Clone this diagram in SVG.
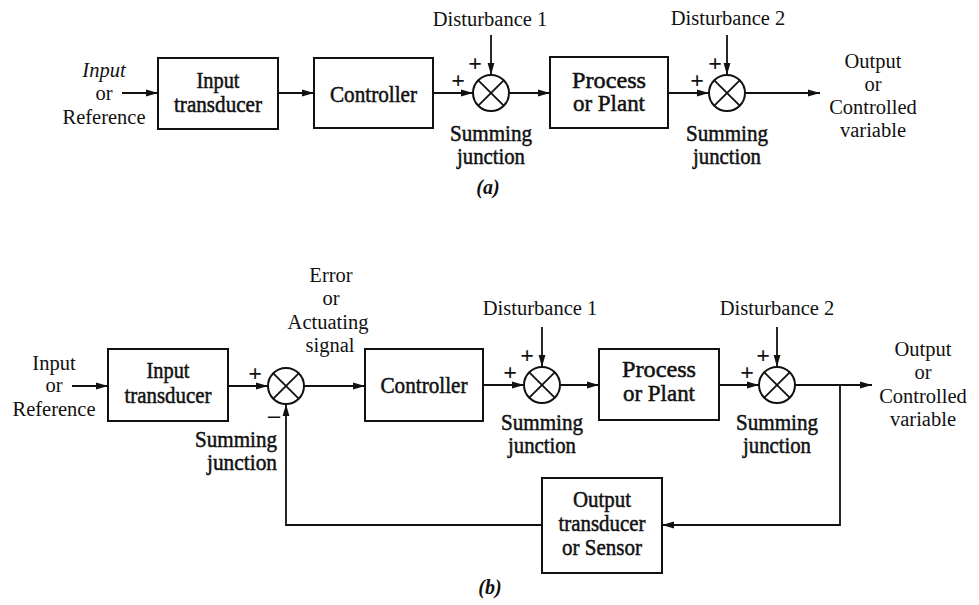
<svg xmlns="http://www.w3.org/2000/svg" width="979" height="605" viewBox="0 0 979 605">
<style>
.box{fill:#fff;stroke:#111;stroke-width:2}
.ln{fill:none;stroke:#111;stroke-width:1.8}
.sum circle{fill:#fff;stroke:#111;stroke-width:2}
.sum line{stroke:#111;stroke-width:1.8}
text{font-family:"Liberation Serif","Times New Roman",serif;fill:#111;text-anchor:middle}
.lt{font-size:20.5px}
.hv{font-size:22.5px;stroke:#111;stroke-width:0.5px}
.sg{font-size:24px;font-weight:bold}
.cap{font-size:20px;font-weight:bold;font-style:italic}
</style>
<defs>
<marker id="ah" markerWidth="13" markerHeight="8" refX="12" refY="4" orient="auto" markerUnits="userSpaceOnUse">
<path d="M0,0.6 L12,4 L0,7.4 z" fill="#111"/>
</marker>
</defs>

<!-- ===== (a) ===== -->
<g id="a-input-label">
<text class="lt" x="104" y="77" font-style="italic">Input</text>
<text class="lt" x="104" y="100">or</text>
<text class="lt" x="104" y="124">Reference</text>
</g>
<g id="a-input-transducer">
<rect class="box" x="158" y="58" width="120" height="71"/>
<text class="hv" x="218" y="88" textLength="43" lengthAdjust="spacingAndGlyphs">Input</text>
<text class="hv" x="218" y="112" textLength="88" lengthAdjust="spacingAndGlyphs">transducer</text>
</g>
<g id="a-controller">
<rect class="box" x="314" y="58" width="119" height="70"/>
<text class="hv" x="373.5" y="102" textLength="87" lengthAdjust="spacingAndGlyphs">Controller</text>
</g>
<g id="a-sum1" class="sum">
<circle cx="491" cy="93" r="18"/>
<line x1="478.3" y1="80.3" x2="503.7" y2="105.7"/>
<line x1="478.3" y1="105.7" x2="503.7" y2="80.3"/>
<text class="sg" x="458" y="88">+</text>
<text class="sg" x="475" y="71">+</text>
<text class="lt" x="490" y="26">Disturbance 1</text>
<text class="hv" x="491" y="141" textLength="82" lengthAdjust="spacingAndGlyphs">Summing</text>
<text class="hv" x="491" y="164" textLength="68" lengthAdjust="spacingAndGlyphs">junction</text>
</g>
<g id="a-process">
<rect class="box" x="550" y="57" width="118" height="71"/>
<text class="hv" x="609" y="88" textLength="74" lengthAdjust="spacingAndGlyphs">Process</text>
<text class="hv" x="609" y="111" textLength="72" lengthAdjust="spacingAndGlyphs">or Plant</text>
</g>
<g id="a-sum2" class="sum">
<circle cx="727" cy="93" r="18"/>
<line x1="714.3" y1="80.3" x2="739.7" y2="105.7"/>
<line x1="714.3" y1="105.7" x2="739.7" y2="80.3"/>
<text class="sg" x="697" y="88">+</text>
<text class="sg" x="715" y="71">+</text>
<text class="lt" x="728" y="25">Disturbance 2</text>
<text class="hv" x="727" y="141" textLength="82" lengthAdjust="spacingAndGlyphs">Summing</text>
<text class="hv" x="727" y="164" textLength="68" lengthAdjust="spacingAndGlyphs">junction</text>
</g>
<g id="a-output-label">
<text class="lt" x="873" y="68">Output</text>
<text class="lt" x="873" y="91">or</text>
<text class="lt" x="873" y="114">Controlled</text>
<text class="lt" x="873" y="137">variable</text>
</g>
<text class="cap" x="488" y="194">(a)</text>

<!-- ===== (b) ===== -->
<g id="b-input-label">
<text class="lt" x="54" y="370">Input</text>
<text class="lt" x="54" y="392">or</text>
<text class="lt" x="54" y="416">Reference</text>
</g>
<g id="b-input-transducer">
<rect class="box" x="108" y="349" width="120" height="72"/>
<text class="hv" x="168" y="378" textLength="43" lengthAdjust="spacingAndGlyphs">Input</text>
<text class="hv" x="168" y="403" textLength="87" lengthAdjust="spacingAndGlyphs">transducer</text>
</g>
<g id="b-sum0" class="sum">
<circle cx="286" cy="386" r="18"/>
<line x1="273.3" y1="373.3" x2="298.7" y2="398.7"/>
<line x1="273.3" y1="398.7" x2="298.7" y2="373.3"/>
<text class="sg" x="255" y="381">+</text>
<text class="sg" x="274" y="423">–</text>
<text class="hv" x="277" y="447" style="text-anchor:end" textLength="82" lengthAdjust="spacingAndGlyphs">Summing</text>
<text class="hv" x="277" y="470" style="text-anchor:end" textLength="70" lengthAdjust="spacingAndGlyphs">junction</text>
</g>
<g id="b-error-label">
<text class="lt" x="331" y="282">Error</text>
<text class="lt" x="331" y="305">or</text>
<text class="lt" x="328" y="329">Actuating</text>
<text class="lt" x="330" y="352">signal</text>
</g>
<g id="b-controller">
<rect class="box" x="365" y="349" width="118" height="72"/>
<text class="hv" x="424" y="393" textLength="87" lengthAdjust="spacingAndGlyphs">Controller</text>
</g>
<g id="b-sum1" class="sum">
<circle cx="542" cy="385" r="18"/>
<line x1="529.3" y1="372.3" x2="554.7" y2="397.7"/>
<line x1="529.3" y1="397.7" x2="554.7" y2="372.3"/>
<text class="sg" x="510" y="380">+</text>
<text class="sg" x="527" y="363">+</text>
<text class="lt" x="540" y="315">Disturbance 1</text>
<text class="hv" x="542" y="430" textLength="82" lengthAdjust="spacingAndGlyphs">Summing</text>
<text class="hv" x="542" y="453" textLength="68" lengthAdjust="spacingAndGlyphs">junction</text>
</g>
<g id="b-process">
<rect class="box" x="599" y="349" width="120" height="71"/>
<text class="hv" x="659" y="377" textLength="74" lengthAdjust="spacingAndGlyphs">Process</text>
<text class="hv" x="659" y="401" textLength="72" lengthAdjust="spacingAndGlyphs">or Plant</text>
</g>
<g id="b-sum2" class="sum">
<circle cx="777" cy="385" r="18"/>
<line x1="764.3" y1="372.3" x2="789.7" y2="397.7"/>
<line x1="764.3" y1="397.7" x2="789.7" y2="372.3"/>
<text class="sg" x="747" y="380">+</text>
<text class="sg" x="763" y="363">+</text>
<text class="lt" x="777" y="315">Disturbance 2</text>
<text class="hv" x="777" y="430" textLength="82" lengthAdjust="spacingAndGlyphs">Summing</text>
<text class="hv" x="777" y="453" textLength="68" lengthAdjust="spacingAndGlyphs">junction</text>
</g>
<g id="b-output-label">
<text class="lt" x="923" y="356">Output</text>
<text class="lt" x="923" y="379">or</text>
<text class="lt" x="923" y="403">Controlled</text>
<text class="lt" x="923" y="426">variable</text>
</g>
<g id="b-sensor">
<rect class="box" x="542" y="478" width="120" height="95"/>
<text class="hv" x="602" y="507" textLength="58" lengthAdjust="spacingAndGlyphs">Output</text>
<text class="hv" x="602" y="531" textLength="87" lengthAdjust="spacingAndGlyphs">transducer</text>
<text class="hv" x="602" y="555" textLength="80" lengthAdjust="spacingAndGlyphs">or Sensor</text>
</g>
<text class="cap" x="490" y="594">(b)</text>

<!-- ===== connectors ===== -->
<g id="connectors" class="ln">
<line x1="122" y1="93" x2="158" y2="93" marker-end="url(#ah)"/>
<line x1="278" y1="93" x2="314" y2="93" marker-end="url(#ah)"/>
<line x1="433" y1="93" x2="473" y2="93" marker-end="url(#ah)"/>
<line x1="491" y1="35" x2="491" y2="75" marker-end="url(#ah)"/>
<line x1="509" y1="93" x2="550" y2="93" marker-end="url(#ah)"/>
<line x1="668" y1="93" x2="709" y2="93" marker-end="url(#ah)"/>
<line x1="727" y1="35" x2="727" y2="75" marker-end="url(#ah)"/>
<line x1="745" y1="93" x2="820" y2="93" marker-end="url(#ah)"/>

<line x1="72" y1="386" x2="108" y2="386" marker-end="url(#ah)"/>
<line x1="228" y1="386" x2="268" y2="386" marker-end="url(#ah)"/>
<line x1="304" y1="386" x2="365" y2="386" marker-end="url(#ah)"/>
<line x1="483" y1="385" x2="524" y2="385" marker-end="url(#ah)"/>
<line x1="542" y1="327" x2="542" y2="367" marker-end="url(#ah)"/>
<line x1="560" y1="385" x2="599" y2="385" marker-end="url(#ah)"/>
<line x1="719" y1="385" x2="759" y2="385" marker-end="url(#ah)"/>
<line x1="777" y1="327" x2="777" y2="367" marker-end="url(#ah)"/>
<line x1="795" y1="385" x2="872" y2="385" marker-end="url(#ah)"/>
<polyline points="840,385 840,525 662,525" marker-end="url(#ah)"/>
<polyline points="542,525 286,525 286,404" marker-end="url(#ah)"/>
</g>
</svg>
